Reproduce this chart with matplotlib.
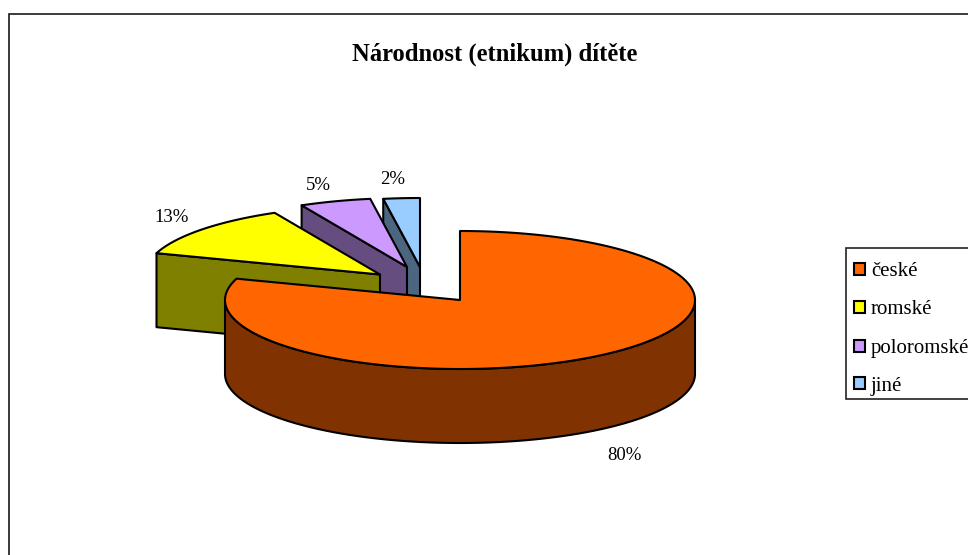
import numpy as np
import matplotlib
matplotlib.use("Agg")
import matplotlib.pyplot as plt
from matplotlib.patches import Polygon, Rectangle

plt.rcParams['font.family'] = ['Liberation Serif', 'DejaVu Serif']

title = "Národnost (etnikum) dítěte"
categories = ["české", "romské", "poloromské", "jiné"]
values = [80.0, 12.6, 4.9, 2.5]
value_labels = ["80%", "13%", "5%", "2%"]

colors = ["#FF6600", "#FFFF00", "#CC99FF", "#99CCFF"]
side_colors = ["#803300", "#808000", "#664D80", "#4D6680"]
apexes = [(460, 300), (380, 274.5), (407, 267), (420, 267)]
label_pos = [(624, 455), (172, 218), (318, 186), (393, 179)]
RX, RY, DEPTH = 235, 69, 74
EDGE = "#000000"

W, H = 968, 555
fig = plt.figure(figsize=(W / 100, H / 100), dpi=100, facecolor="white")
ax = fig.add_axes([0, 0, 1, 1])
ax.set_xlim(0, W)
ax.set_ylim(H, 0)
ax.axis("off")

# chart frame (runs off the right and bottom of the image)
ax.add_patch(Rectangle((9, 14), W + 20, H + 20, fc="white", ec="#1a1a1a", lw=1.2, zorder=0))


def rim(cx, cy, a0, a1, n=240):
    t = np.radians(np.linspace(a0, a1, n))
    return np.column_stack([cx + RX * np.cos(t), cy - RY * np.sin(t)])


# slice angles clockwise from 12 o'clock
fractions = np.array(values) / sum(values) * 360
ends = 90 - np.cumsum(fractions)
starts = ends + fractions

# draw back-most slices first
for i in [3, 2, 1, 0]:
    z = 2 + (3 - i)
    cx, cy = apexes[i]
    arc = rim(cx, cy, starts[i], ends[i])
    kw = dict(ec=EDGE, lw=1.5, joinstyle="round", zorder=z)
    if i == 0:
        # outer wall, visible along the front half of the ellipse
        front = rim(cx, cy, 0, -180)
        wall = np.vstack([front, (front + [0, DEPTH])[::-1]])
        ax.add_patch(Polygon(wall, fc=side_colors[i], **kw))
    else:
        # cut face, from the left end of the slice to the apex
        p = arc[-1]
        p = rim(cx, cy, starts[i], starts[i], 1)[0]
        face = [p, (cx, cy), (cx, cy + DEPTH), (p[0], p[1] + DEPTH)]
        ax.add_patch(Polygon(face, fc=side_colors[i], **kw))
    top = np.vstack([[(cx, cy)], arc])
    ax.add_patch(Polygon(top, fc=colors[i], **kw))

ax.text(495, 54.5, title, ha="center", va="center", fontsize=17.7, fontweight="bold", color="black")

for (x, y), s in zip(label_pos, value_labels):
    ax.text(x, y, s, ha="center", va="center", fontsize=13.5, color="black")

# legend, clipped by the right edge as in the source
ax.add_patch(Rectangle((846, 248), 200, 151, fc="white", ec="#222222", lw=1.2, zorder=10))
for i, (name, yc) in enumerate(zip(categories, [268.5, 307, 345.5, 383])):
    ax.add_patch(Rectangle((853.5, yc - 6), 11, 12, fc=colors[i], ec="black", lw=1.5, zorder=11))
    ax.text(871, yc + 7.5, name, ha="left", va="baseline", fontsize=15, color="black", zorder=11)

fig.savefig("out.png", dpi=100)
